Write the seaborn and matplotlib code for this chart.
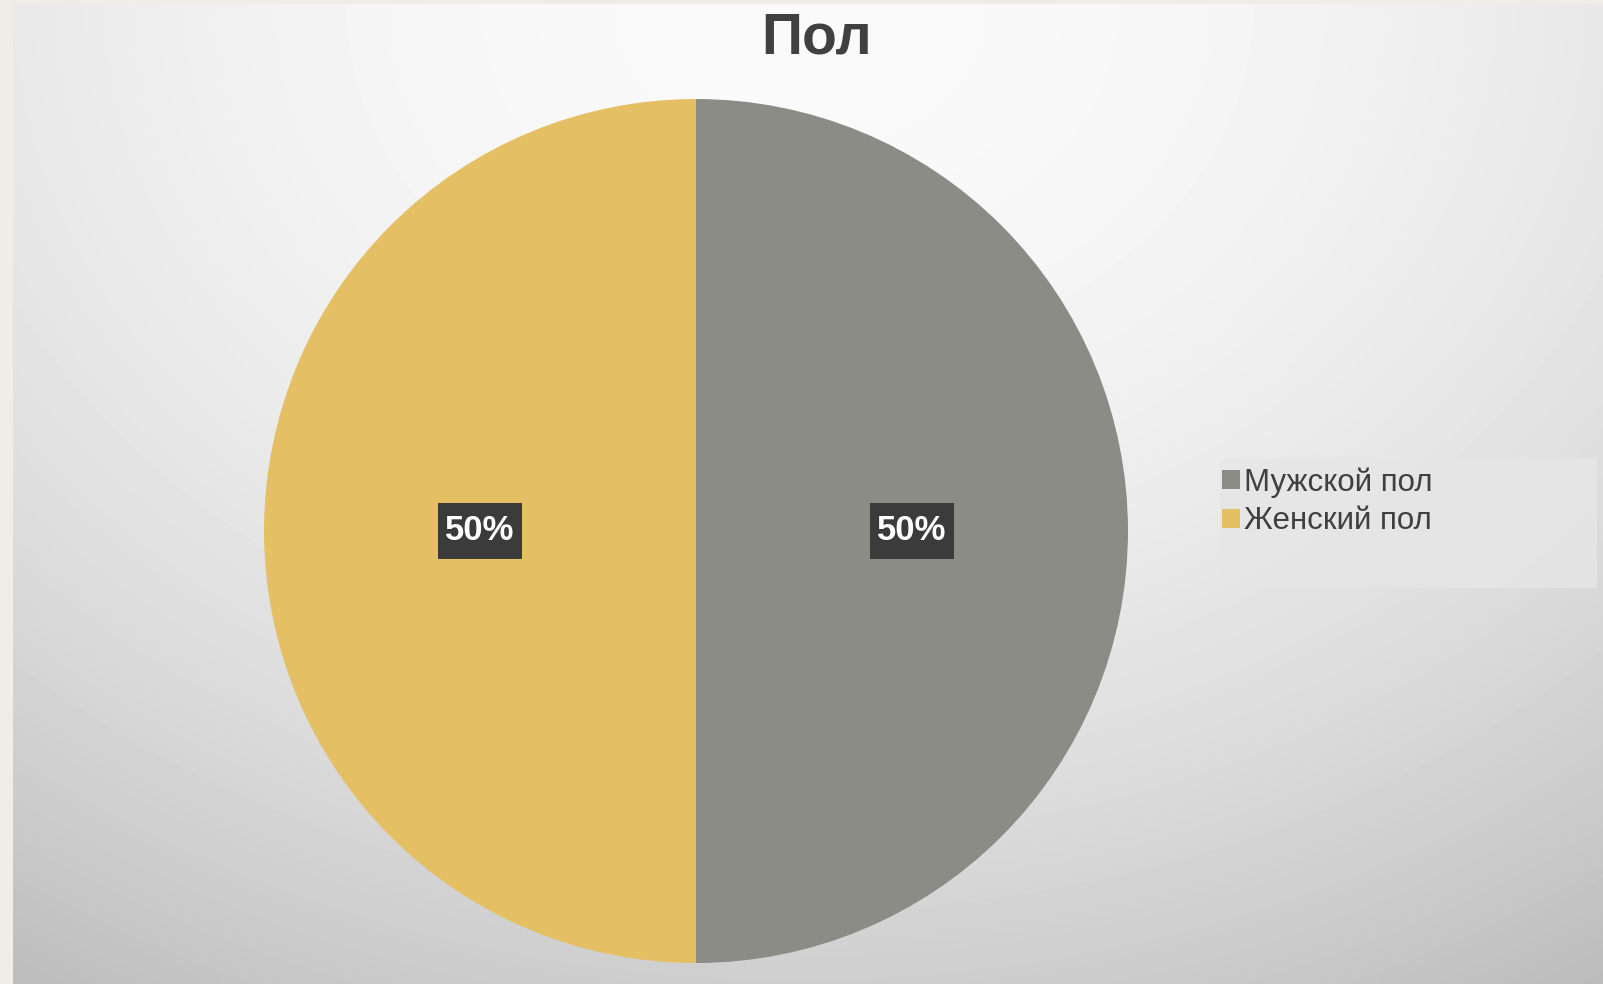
import numpy as np
import matplotlib
matplotlib.use("Agg")
import matplotlib.pyplot as plt
import seaborn as sns

sns.set_theme(style="white")
plt.rcParams["font.family"] = ["Liberation Sans", "DejaVu Sans"]

# Data
title = "Пол"
categories = ["Мужской пол", "Женский пол"]
shares = [50, 50]
colors = ["#8c8c86", "#e4bf63"]

W, H = 1603, 984
fig = plt.figure(figsize=(W / 100, H / 100), dpi=100, facecolor="#efede5")

# Chart area background: soft gradient, lightest at top centre
bg = fig.add_axes([13 / W, 0, (W - 13) / W, (H - 4) / H])
bg.set_axis_off()
xx, yy = np.meshgrid(np.linspace(13, W, 400), np.linspace(4, H, 300))
shade = 250 - 18 * ((xx - 800) / 790) ** 2 - 44 * ((yy - 4) / 980) ** 2
shade = np.clip(shade, 185, 255) / 255.0
bg.imshow(shade, cmap="gray", vmin=0, vmax=1, aspect="auto",
          extent=(0, 1, 0, 1), origin="upper", interpolation="bilinear")
bg.set_xlim(0, 1)
bg.set_ylim(0, 1)

# Pie axes
cx, cy, r = 696, 531, 432
ax = fig.add_axes([(cx - r) / W, 1 - (cy + r) / H, 2 * r / W, 2 * r / H])
ax.set_axis_off()
wedges, texts, autotexts = ax.pie(
    shares, colors=colors, startangle=90, counterclock=False, radius=1,
    autopct="%.0f%%", pctdistance=0.5,
    wedgeprops=dict(linewidth=0),
    textprops=dict(color="white", fontsize=25, fontweight="bold"),
)
for t in autotexts:
    t.set_bbox(dict(boxstyle="square,pad=0.22", fc="#3b3b3b", ec="none",
                    mutation_aspect=1.45))
ax.set_xlim(-1, 1)
ax.set_ylim(-1, 1)
ax.set_aspect("equal")

fig.text(817 / W, 1 - 39 / H, title, ha="center", va="center",
         fontsize=41, fontweight="bold", color="#404040")

# Legend panel
panel = plt.Rectangle((1220 / W, 1 - 588 / H), (1597 - 1220) / W, (588 - 458) / H,
                      transform=fig.transFigure, fc="#e6e6e6", ec="none", alpha=0.8)
fig.patches.append(panel)
leg = fig.legend(wedges, categories, loc="upper left",
                 bbox_to_anchor=(1222 / W, 1 - 467 / H), frameon=False,
                 fontsize=22.5, handlelength=0.58, handleheight=0.58,
                 handletextpad=0.12, labelspacing=0.28, borderpad=0,
                 borderaxespad=0, labelcolor="#404040")

fig.savefig("out.png", dpi=100, facecolor=fig.get_facecolor())
